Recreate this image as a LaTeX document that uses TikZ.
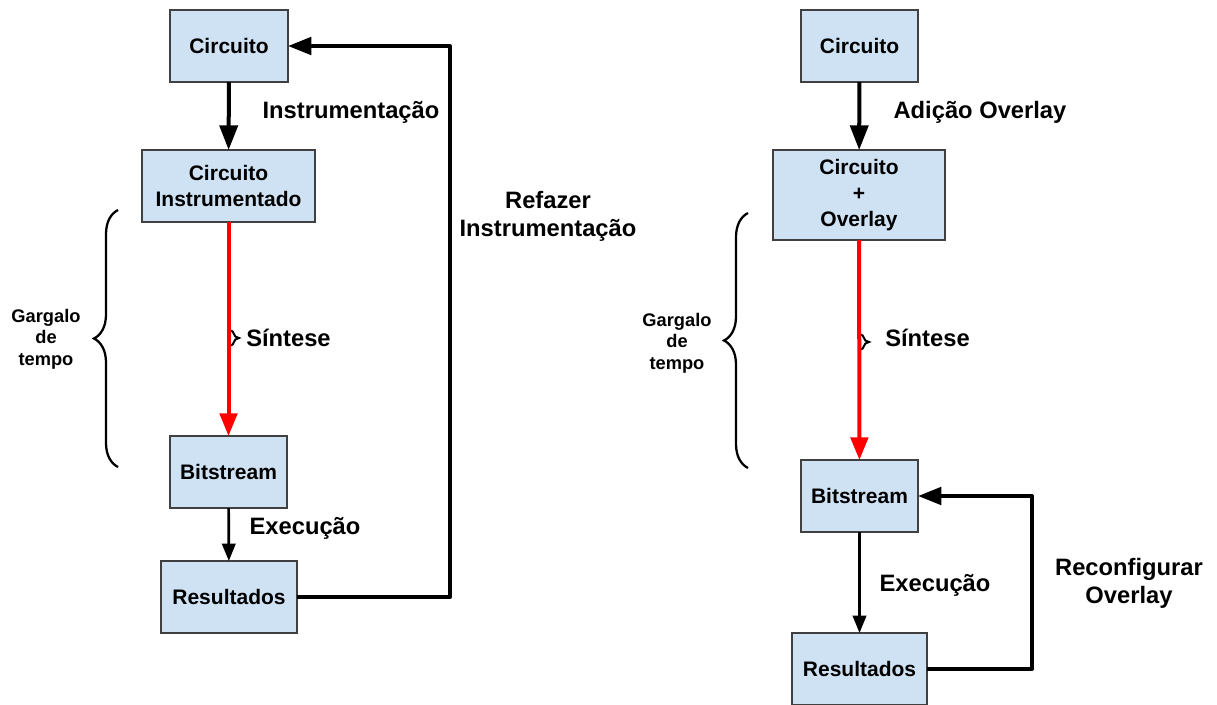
\documentclass[tikz,border=0pt]{standalone}
\usepackage{fontspec}
\setmainfont{Liberation Sans}
\usetikzlibrary{arrows.meta,decorations.pathreplacing}
\definecolor{boxfill}{HTML}{CFE2F3}
\definecolor{boxline}{HTML}{404040}
\begin{document}
\begin{tikzpicture}[x=0.75pt,y=-0.75pt,
  box/.style={draw=boxline,line width=0.9pt,fill=boxfill,inner sep=0pt,outer sep=0pt,
    align=center,font=\fontsize{15.75}{19.5}\selectfont\bfseries},
  lbl/.style={inner sep=0pt,align=center,font=\fontsize{17.8}{21}\selectfont\bfseries},
  side/.style={inner sep=0pt,align=center,font=\fontsize{13.7}{16}\selectfont\bfseries},
  bigtip/.style={-{Triangle[length=18.5pt,width=13.5pt]}},
  smalltip/.style={-{Triangle[length=13pt,width=10pt]}},
  flow/.style={bigtip,line width=3pt},
  thinflow/.style={smalltip,line width=2pt},
  slow/.style={-{Triangle[length=17pt,width=13pt]},line width=3pt,red},
  loop/.style={-{Triangle[length=17.5pt,width=13pt]},line width=3pt,line join=round},
  bigbrace/.style={decorate,decoration={brace,amplitude=18pt},line width=1.7pt},
  tinybrace/.style={decorate,decoration={brace,amplitude=7.5pt},line width=1.5pt}]
\useasboundingbox (0,0) rectangle (1217,704);

% ---- instrumentation flow ----
\node[box,minimum width=88.5pt,minimum height=54pt] (L1) at (229,46) {Circuito};
\node[box,minimum width=129.75pt,minimum height=54pt] (L2) at (228.5,186) {Circuito\\Instrumentado};
\node[box,minimum width=87.75pt,minimum height=54pt] (L3) at (228.5,472) {Bitstream};
\node[box,minimum width=102pt,minimum height=54pt] (L4) at (229,597) {Resultados};

\draw[flow] (L1) -- (L2);
\draw[tinybrace] (229,330) -- (229,346);
\draw[slow] (L2) -- (L3);
\draw[thinflow] (L3) -- (L4);
\coordinate (lc) at (450,46);
\draw[loop] (L4.east) -| (lc) -- (L1.east);

\node[lbl] (li) at (351,112) {Instrumentação};
\node[lbl] (lr) at (548,216) {Refazer\\Instrumentação};
\node[lbl,anchor=west] (ls) at (246,338) {Síntese};
\node[lbl] (le) at (305,528) {Execução};
\draw[bigbrace] (118,467) -- (118,210);
\node[side] (lg) at (46,339) {Gargalo\\de\\tempo};

% ---- overlay flow ----
\node[box,minimum width=87.75pt,minimum height=54pt] (R1) at (859.5,46) {Circuito};
\node[box,minimum width=129pt,minimum height=67.5pt] (R2) at (859,195) {Circuito\\+\\Overlay};
\node[box,minimum width=87.75pt,minimum height=54pt] (R3) at (859.5,496) {Bitstream};
\node[box,minimum width=101.25pt,minimum height=54pt] (R4) at (859.5,669) {Resultados};

\draw[flow] (R1) -- (R2);
\draw[tinybrace] (859,334) -- (859,350);
\draw[slow] (R2) -- (R3);
\draw[thinflow] (R3) -- (R4);
\coordinate (rc) at (1032,496);
\draw[loop] (R4.east) -| (rc) -- (R3.east);

\node[lbl] (ra) at (980,112) {Adição Overlay};
\node[lbl,anchor=west] (rs) at (885,338) {Síntese};
\node[lbl] (re) at (935,585) {Execução};
\node[lbl] (rr) at (1129,583) {Reconfigurar\\Overlay};
\draw[bigbrace] (748,468) -- (748,213);
\node[side] (rg) at (677,343) {Gargalo\\de\\tempo};
\end{tikzpicture}
\end{document}
